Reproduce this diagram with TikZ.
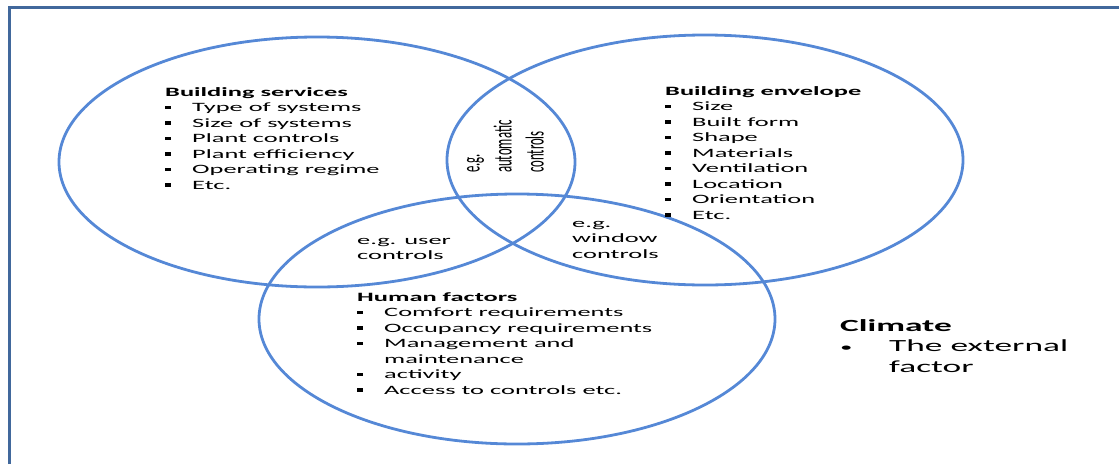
\documentclass[tikz,border=0pt]{standalone}
\usepackage{fontspec}
\setmainfont{Carlito}
\newfontfamily\widefont{Carlito}[FakeStretch=2.08]
\newfontfamily\tallfont{Carlito}[FakeStretch=0.49]
\usetikzlibrary{shapes.geometric}
\definecolor{ringblue}{HTML}{5588D6}
\definecolor{frameblue}{HTML}{41689C}
\newcommand\sqbul{\makebox[27pt][l]{\rule[2.4pt]{5.5pt}{3.6pt}}}

\begin{document}
\begin{tikzpicture}[x=1pt, y=-1pt,
  ring/.style={draw=ringblue, line width=2.8pt, ellipse, minimum width=516pt, minimum height=250pt, inner sep=0pt},
  lst/.style={anchor=base west, align=left, inner sep=0pt, font=\widefont\fontsize{12.7}{15.5}\selectfont},
  rot/.style={rotate=90, align=left, inner sep=0pt, font=\tallfont\fontsize{26}{32}\selectfont}
]
  \useasboundingbox (0,0) rectangle (1119,464);
  \draw[frameblue, line width=3pt] (9.5,464) -- (9.5,7.5) -- (1119,7.5);

  % the three overlapping factors
  \node[ring] (services) at (317,162) {};
  \node[ring] (envelope) at (705,160) {};
  \node[ring] (human) at (517,319) {};

  % lists are placed by the baseline of their last line
  \node[lst] (servicesList) at (165,189) {\textbf{Building services}\\
    \sqbul Type of systems\\ \sqbul Size of systems\\ \sqbul Plant controls\\
    \sqbul Plant efficiency\\ \sqbul Operating regime\\ \sqbul Etc.};
  \node[lst] (envelopeList) at (665,219) {\textbf{Building envelope}\\
    \sqbul Size\\ \sqbul Built form\\ \sqbul Shape\\ \sqbul Materials\\
    \sqbul Ventilation\\ \sqbul Location\\ \sqbul Orientation\\ \sqbul Etc.};
  \node[lst] (humanList) at (357,394) {\textbf{Human factors}\\
    \sqbul Comfort requirements\\ \sqbul Occupancy requirements\\
    \sqbul Management and\\ \hspace*{27pt}maintenance\\
    \sqbul activity\\ \sqbul Access to controls etc.};

  % overlaps
  \node[rot, anchor=south west] (autoCtl) at (544,173) {e.g.\\automatic\\controls};
  \node[lst] (userCtl) at (357,259.5) {e.g. user\\controls};
  \node[lst] (windowCtl) at (572,258) {e.g.\\window\\controls};

  \node[lst, font=\widefont\fontsize{17}{20.5}\selectfont] (climate) at (840,372)
    {\textbf{Climate}\\ \makebox[49pt][l]{\fontsize{12}{12}\selectfont•}The external\\ \hspace*{49pt}factor};
\end{tikzpicture}
\end{document}
